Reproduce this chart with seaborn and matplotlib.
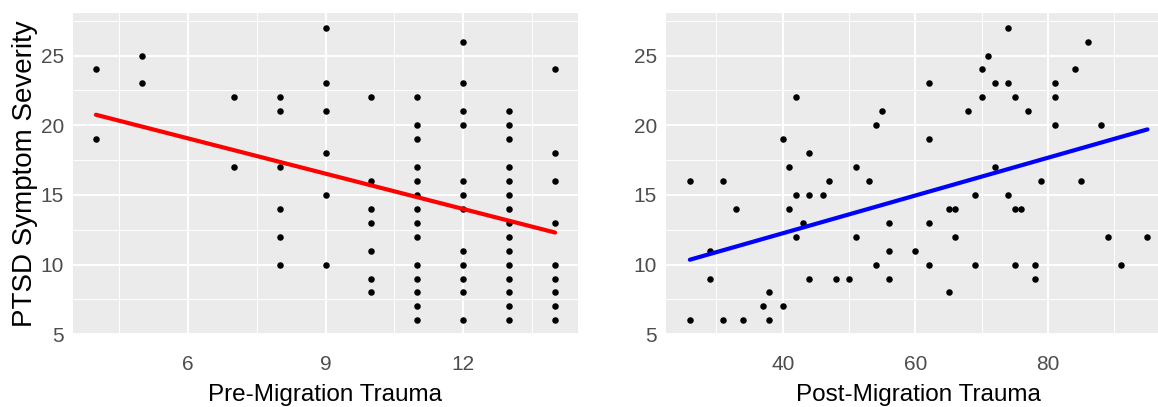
import matplotlib

matplotlib.use("Agg")
import matplotlib.pyplot as plt
import matplotlib.ticker as ticker
import pandas as pd
import seaborn as sns

# pre-migration trauma vs symptom severity
pre_trauma = [
    4, 4,
    5, 5,
    7, 7,
    8, 8, 8, 8, 8, 8,
    9, 9, 9, 9, 9, 9,
    10, 10, 10, 10, 10, 10, 10,
    11, 11, 11, 11, 11, 11, 11, 11, 11, 11, 11, 11, 11, 11,
    12, 12, 12, 12, 12, 12, 12, 12, 12, 12, 12, 12,
    13, 13, 13, 13, 13, 13, 13, 13, 13, 13, 13, 13, 13, 13, 13,
    14, 14, 14, 14, 14, 14, 14, 14, 14,
]
pre_severity = [
    24, 19,
    25, 23,
    22, 17,
    22, 21, 17, 14, 12, 10,
    27, 23, 21, 18, 15, 10,
    22, 16, 14, 13, 11, 9, 8,
    22, 20, 19, 17, 16, 15, 14, 13, 12, 10, 9, 8, 7, 6,
    26, 23, 21, 20, 16, 15, 14, 11, 10, 9, 8, 6,
    21, 20, 19, 17, 16, 15, 14, 13, 12, 11, 10, 9, 8, 7, 6,
    24, 18, 16, 13, 10, 9, 8, 7, 6,
]

# post-migration trauma vs symptom severity
post_trauma = [
    26, 26, 29, 29, 31, 31, 33, 34, 37, 38, 38, 40, 40, 41, 41, 42, 42, 42,
    43, 44, 44, 44, 46, 47, 48, 50, 51, 51, 53, 54, 54, 55, 56, 56, 56, 60,
    62, 62, 62, 62, 65, 65, 66, 66, 68, 69, 69, 70, 70, 71, 72, 72, 74, 74,
    74, 75, 75, 75, 76, 77, 78, 78, 79, 81, 81, 81, 84, 85, 86, 88, 89, 91,
    95,
]
post_severity = [
    16, 6, 11, 9, 16, 6, 14, 6, 7, 8, 6, 19, 7, 17, 14, 22, 15, 12,
    13, 18, 15, 9, 15, 16, 9, 9, 17, 12, 16, 20, 10, 21, 13, 11, 9, 11,
    23, 19, 13, 10, 14, 8, 14, 12, 21, 15, 10, 24, 22, 25, 23, 17, 27, 23,
    15, 22, 14, 10, 14, 21, 10, 9, 16, 23, 22, 20, 24, 16, 26, 20, 12, 10,
    12,
]

# fitted lm lines as they appear in the picture (the raw data has overplotted
# duplicates, so refitting the visible dots gives a slightly different slope)
pre_fit_x = [4, 14]
pre_fit_y = [20.75, 12.3]
post_fit_x = [26, 95]
post_fit_y = [10.35, 19.7]

y_ticks = [5, 10, 15, 20, 25]
pre_ticks = [6, 9, 12]
post_ticks = [40, 60, 80]

pre_df = pd.DataFrame({"pre": pre_trauma, "ptsd": pre_severity})
post_df = pd.DataFrame({"post": post_trauma, "ptsd": post_severity})

# ggplot-ish grey panel look
sns.set_theme(
    style="darkgrid",
    rc={
        "axes.facecolor": "#EBEBEB",
        "grid.color": "white",
        "xtick.major.size": 4.5,
        "ytick.major.size": 4.5,
        "xtick.major.width": 1.0,
        "ytick.major.width": 1.0,
        "xtick.color": "#333333",
        "ytick.color": "#333333",
        "xtick.labelcolor": "#4D4D4D",
        "ytick.labelcolor": "#4D4D4D",
        "xtick.labelsize": 15,
        "ytick.labelsize": 15,
    },
)
plt.rcParams["font.family"] = ["Liberation Sans", "DejaVu Sans"]

W, H = 1158, 407
fig = plt.figure(figsize=(W / 100, H / 100), dpi=100)
fig.patch.set_facecolor("white")

bottom = 1 - 335 / H
height = 322 / H
ax1 = fig.add_axes([73 / W, bottom, 505 / W, height])
# right panel is a bit wider than the canvas, it gets cut at the edge
ax2 = fig.add_axes([666 / W, bottom, 504 / W, height])

point_kws = dict(s=22, color="black", linewidth=0)

sns.scatterplot(data=pre_df, x="pre", y="ptsd", ax=ax1, **point_kws)
sns.lineplot(x=pre_fit_x, y=pre_fit_y, ax=ax1, color="#FF0000", lw=3)

sns.scatterplot(data=post_df, x="post", y="ptsd", ax=ax2, **point_kws)
sns.lineplot(x=post_fit_x, y=post_fit_y, ax=ax2, color="#0000FF", lw=3)

ax1.set_xlim(3.5, 14.5)
ax2.set_xlim(22.4, 98.4)

for ax, xt, minor_step in [(ax1, pre_ticks, 1.5), (ax2, post_ticks, 10)]:
    ax.set_ylim(4.95, 28.05)
    ax.set_xticks(xt)
    ax.set_yticks(y_ticks)
    ax.xaxis.set_minor_locator(ticker.MultipleLocator(minor_step))
    ax.yaxis.set_minor_locator(ticker.MultipleLocator(2.5))
    ax.grid(which="major", color="white", lw=1.4)
    ax.grid(which="minor", color="white", lw=0.7)
    ax.tick_params(which="minor", length=0)
    ax.tick_params(axis="x", pad=10)
    ax.tick_params(axis="y", pad=2)
    for sp in ax.spines.values():
        sp.set_visible(False)
    ax.set_axisbelow(True)

ax1.set_xlabel("Pre-Migration Trauma", fontsize=17.5, color="black", labelpad=7)
ax2.set_xlabel("Post-Migration Trauma", fontsize=17.5, color="black", labelpad=7)
ax1.set_ylabel("PTSD Symptom Severity", fontsize=20, color="black", labelpad=2)
ax2.set_ylabel("")

fig.savefig("out.png", dpi=100)
